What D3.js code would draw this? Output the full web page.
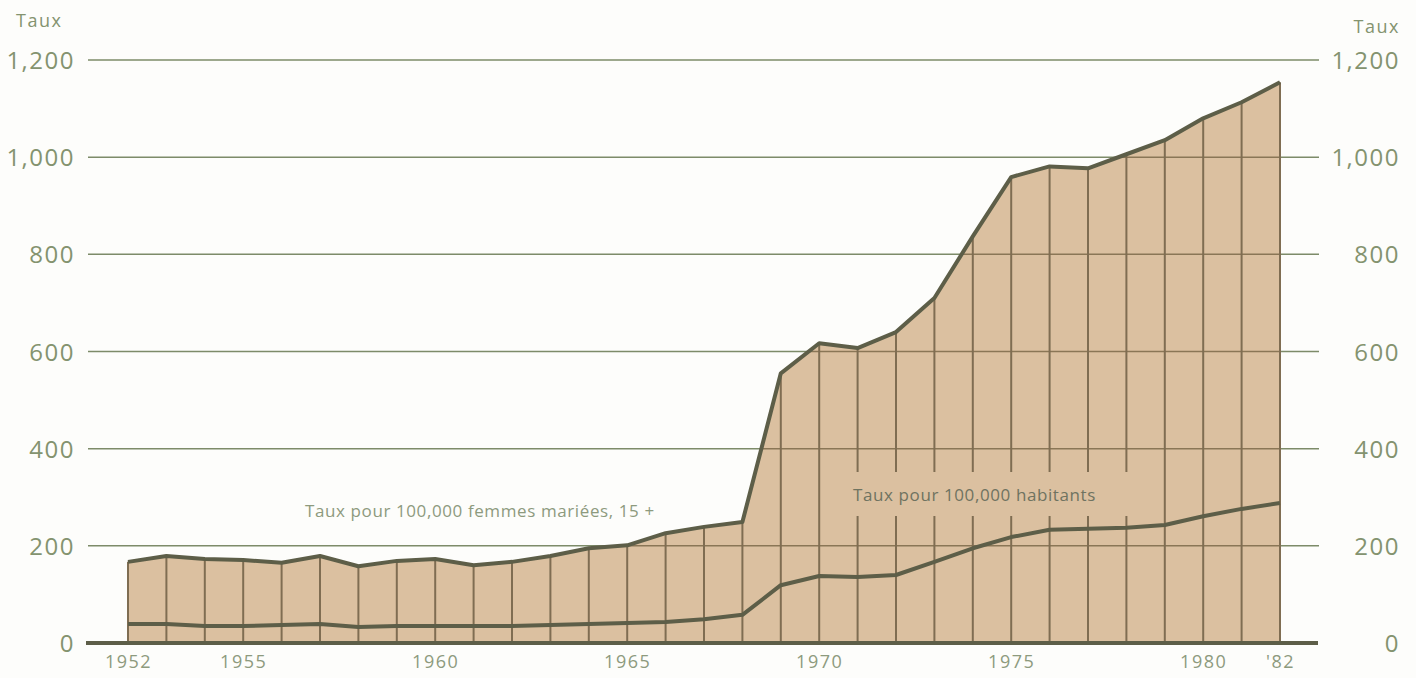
<!DOCTYPE html>
<html>
<head>
<meta charset="utf-8">
<script src="https://cdn.jsdelivr.net/npm/d3@7"></script>
<style>
  body { margin: 0; background: #fdfdfb; }
  svg text { font-family: "Open Sans", "DejaVu Sans", sans-serif; fill: #84936f; }
</style>
</head>
<body>
<div id="chart"></div>
<script>
      var w = 1416;
      var h = 678;

      var years = d3.range(1952, 1983);
      // Taux pour 100,000 femmes mariees, 15 +
      var femmes = [167, 179, 173, 171, 165, 179, 158, 169, 173, 160,
                    167, 179, 195, 201, 226, 239, 249, 555, 617, 607,
                    640, 710, 837, 959, 981, 977, 1006, 1035, 1080, 1113, 1154];
      // Taux pour 100,000 habitants
      var habitants = [39, 39, 35, 35, 37, 39, 33, 35, 35, 35,
                       35, 37, 39, 41, 43, 49, 58, 119, 138, 136,
                       140, 167, 195, 218, 233, 235, 237, 243, 261, 276, 288];
      var yTicks = [0, 200, 400, 600, 800, 1000, 1200];
      var xTicks = [1952, 1955, 1960, 1965, 1970, 1975, 1980, 1982];

      var xScale = d3.scaleLinear().domain([1952, 1982]).range([128, 1280]);
      var yScale = d3.scaleLinear().domain([0, 1200]).range([643, 60]);

      var svg = d3.select("#chart")
            .append("svg")
            .attr("width", w)
            .attr("height", h);

      //gridlines (behind the area)
      svg.selectAll(".grid")
         .data(yTicks.slice(1))
         .enter()
         .append("line")
         .attr("x1", 88)
         .attr("x2", 1319)
         .attr("y1", function(d) { return yScale(d); })
         .attr("y2", function(d) { return yScale(d); })
         .style("stroke", "#7d8b69")
         .style("stroke-width", 1.5);

      //tan area under the upper line
      var area = d3.area()
                   .x(function(d, i) { return xScale(years[i]); })
                   .y0(yScale(0))
                   .y1(function(d) { return yScale(d); });

      svg.append("path")
         .datum(femmes)
         .attr("d", area)
         .style("fill", "#dbc0a0");

      svg.append("clipPath")
         .attr("id", "areaClip")
         .append("path")
         .datum(femmes)
         .attr("d", area);

      //gridlines again, over the area
      svg.selectAll(".grid2")
         .data(yTicks.slice(1))
         .enter()
         .append("line")
         .attr("x1", 128)
         .attr("x2", 1280)
         .attr("y1", function(d) { return yScale(d); })
         .attr("y2", function(d) { return yScale(d); })
         .style("stroke", "#8a7656")
         .style("stroke-width", 1.5)
         .attr("clip-path", "url(#areaClip)");

      //one vertical line per year
      svg.selectAll(".year")
         .data(years)
         .enter()
         .append("line")
         .attr("x1", function(d) { return xScale(d); })
         .attr("x2", function(d) { return xScale(d); })
         .attr("y1", yScale(0))
         .attr("y2", function(d, i) { return yScale(femmes[i]); })
         .style("stroke", "#7f6d52")
         .style("stroke-width", 2);

      //patch of fill behind the second label
      svg.append("rect")
         .attr("x", 846)
         .attr("y", 472)
         .attr("width", 292)
         .attr("height", 44)
         .style("fill", "#dbc0a0");

      var line = d3.line()
                   .x(function(d, i) { return xScale(years[i]); })
                   .y(function(d) { return yScale(d); });

      svg.append("path")
         .datum(habitants)
         .attr("d", line)
         .style("fill", "none")
         .style("stroke", "#5d5e48")
         .style("stroke-width", 4)
         .style("stroke-linejoin", "round");

      svg.append("path")
         .datum(femmes)
         .attr("d", line)
         .style("fill", "none")
         .style("stroke", "#5d5e48")
         .style("stroke-width", 4)
         .style("stroke-linejoin", "round");

      //zero baseline
      svg.append("line")
         .attr("x1", 86)
         .attr("x2", 1318)
         .attr("y1", yScale(0))
         .attr("y2", yScale(0))
         .style("stroke", "#5d5e48")
         .style("stroke-width", 4);

      //Y axes (labels only)
      var yAxisL = d3.axisLeft(yScale)
                     .tickValues(yTicks)
                     .tickSize(0)
                     .tickPadding(0)
                     .tickFormat(d3.format(","));
      svg.append("g")
        .attr("transform", "translate(75,0)")
        .call(yAxisL);

      svg.append("g")
        .attr("transform", "translate(1400,0)")
        .call(yAxisL);

      svg.selectAll("g").select(".domain").remove();
      svg.selectAll("g .tick text")
        .attr("dy", "0.36em")
        .style("font-size", "24px")
        .style("letter-spacing", "1.5px")
        .style("fill", "#84936f");

      //X axis labels
      var xAxis = d3.axisBottom(xScale)
                    .tickValues(xTicks)
                    .tickSize(0)
                    .tickPadding(0)
                    .tickFormat(function(d) { return d === 1982 ? "'82" : d; });
      var gx = svg.append("g")
        .attr("transform", "translate(0,655)")
        .call(xAxis);
      gx.select(".domain").remove();
      gx.selectAll("text")
        .attr("y", 0)
        .attr("dy", "0.72em")
        .style("font-size", "18px")
        .style("letter-spacing", "1.5px")
        .style("fill", "#8d9a7e");

      svg.append("text")
        .attr("x", 16)
        .attr("y", 27)
        .style("font-size", "18px")
        .style("letter-spacing", "1.5px")
        .text("Taux");

      svg.append("text")
        .attr("x", 1400)
        .attr("y", 33)
        .attr("text-anchor", "end")
        .style("font-size", "18px")
        .style("letter-spacing", "1.5px")
        .text("Taux");

      svg.append("text")
        .attr("x", 305)
        .attr("y", 517)
        .style("font-size", "17px")
        .style("letter-spacing", "0.6px")
        .style("fill", "#8d9a7e")
        .text("Taux pour 100,000 femmes mariées, 15 +");

      svg.append("text")
        .attr("x", 853)
        .attr("y", 501)
        .style("font-size", "17px")
        .style("letter-spacing", "0.6px")
        .style("fill", "#6f7360")
        .text("Taux pour 100,000 habitants");
</script>
</body>
</html>
